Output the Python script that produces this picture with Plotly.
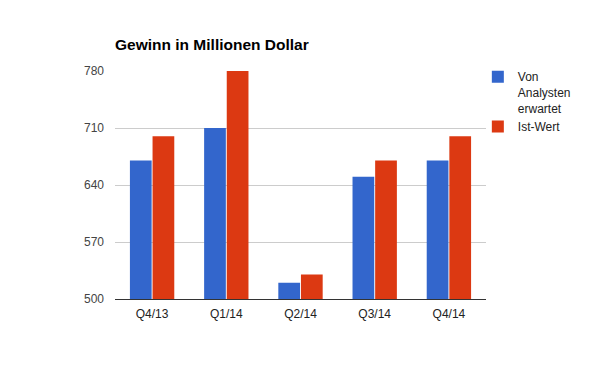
import plotly.graph_objects as go

categories = ["Q4/13", "Q1/14", "Q2/14", "Q3/14", "Q4/14"]
erwartet = [670, 710, 520, 650, 670]
ist_wert = [700, 780, 530, 670, 700]
y_ticks = [500, 570, 640, 710, 780]

FONT = "Liberation Sans, Arial, sans-serif"

fig = go.Figure()
fig.add_trace(go.Bar(x=categories, y=erwartet, name="Von<br>Analysten<br>erwartet",
                     marker=dict(color="#3366CC", line=dict(width=0))))
fig.add_trace(go.Bar(x=categories, y=ist_wert, name="Ist-Wert",
                     marker=dict(color="#DC3912", line=dict(width=0))))

fig.update_layout(
    width=600, height=371,
    margin=dict(l=107, r=122, t=63, b=80),
    paper_bgcolor="white", plot_bgcolor="white",
    font=dict(family=FONT, size=12, color="#222222"),
    title=dict(text="<b>Gewinn in Millionen Dollar</b>", x=107/600, xanchor="left",
               y=1 - 37/371, yanchor="middle",
               font=dict(family=FONT, size=15.5, color="#000000")),
    barmode="group", bargap=0.39, bargroupgap=0.04,
    showlegend=True,
    legend=dict(x=0.978, xanchor="left", y=1.0375, yanchor="top", valign="top",
                font=dict(family=FONT, size=12, color="#222222"),
                itemwidth=30, tracegroupgap=0, bgcolor="rgba(0,0,0,0)",
                itemclick=False),
    xaxis=dict(showgrid=False, showline=True, linecolor="#333333", linewidth=1,
               ticks="", tickfont=dict(family=FONT, size=12, color="#222222"),
               ticklabelstandoff=4),
    yaxis=dict(range=[500, 780], tickvals=y_ticks, showgrid=True, gridcolor="#CCCCCC",
               gridwidth=1, zeroline=False, showline=False, ticks="",
               tickfont=dict(family=FONT, size=12, color="#444444"),
               ticklabelstandoff=10),
)

fig.write_html("out.html")
